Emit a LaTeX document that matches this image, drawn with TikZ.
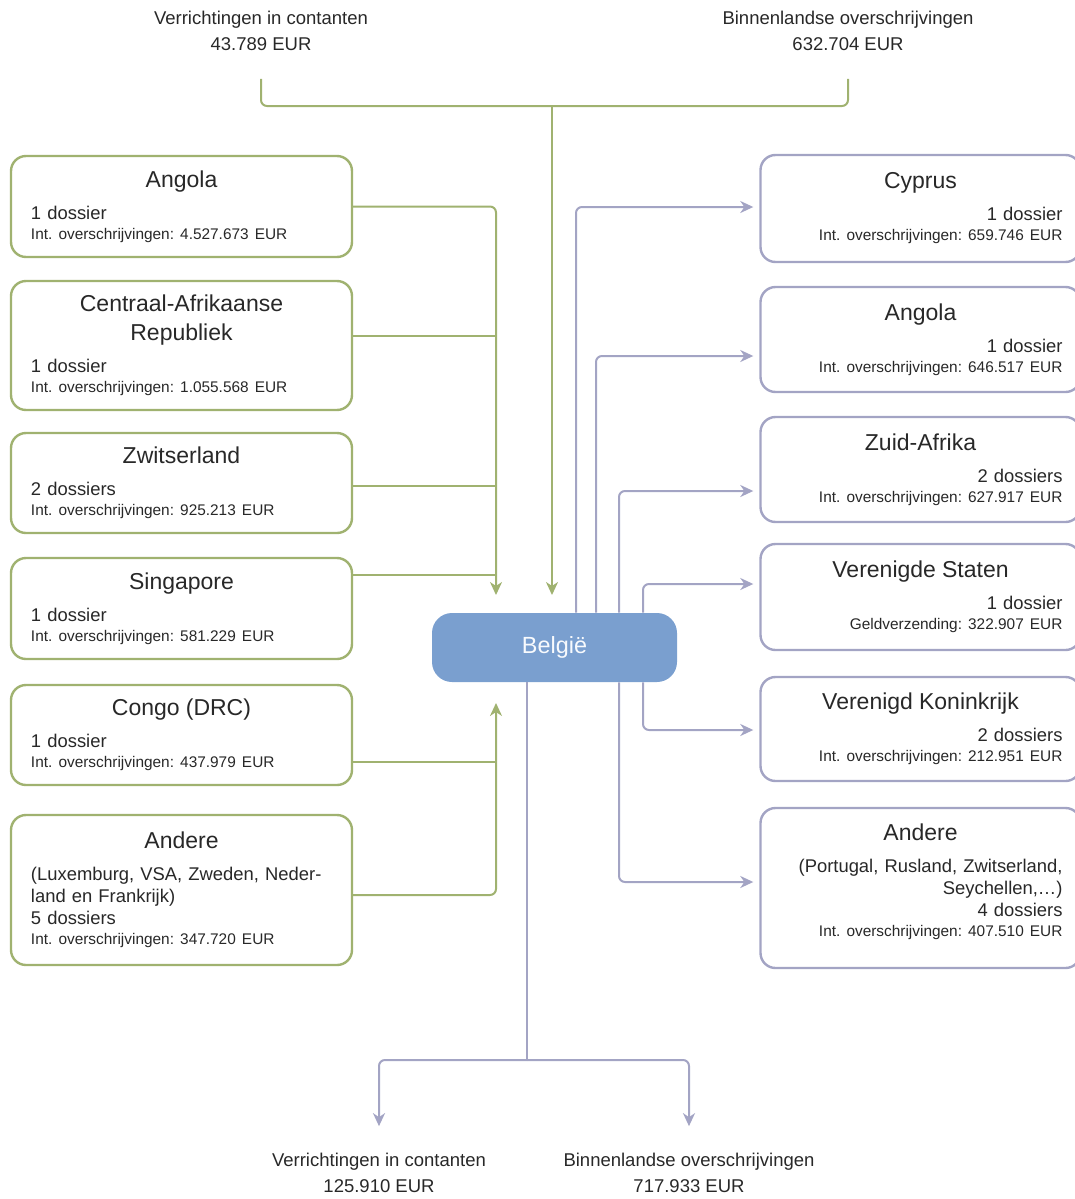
\documentclass[tikz,border=0pt]{standalone}
\usepackage{fontspec}
\setmainfont{Liberation Sans}
\usepackage{xcolor}
\usepackage{tikz}
\usetikzlibrary{arrows.meta, positioning, calc}
\frenchspacing
\definecolor{mytext}{RGB}{40,40,40}
\definecolor{mygreen}{RGB}{160,178,112}
\definecolor{mylilac}{RGB}{163,164,196}
\definecolor{myblue}{RGB}{122,159,207}
\newcommand{\boxhead}[1]{{\centering\fontsize{11.5}{14.5}\selectfont #1\par}\vspace{5pt}}
\newcommand{\intline}[1]{{\par\fontsize{7.7}{10}\selectfont #1\par}}
\tikzset{
  gline/.style={draw=mygreen, line width=1pt},
  garrow/.style={gline, -{Stealth[length=6.5pt, width=6pt, inset=2pt]}},
  pline/.style={draw=mylilac, line width=1pt},
  parrow/.style={pline, -{Stealth[length=6.5pt, width=6pt, inset=2pt]}},
  lbox/.style={draw=mygreen, line width=1.2pt, fill=white, rectangle, rounded corners=7.5pt, text width=150.5pt, inner xsep=10pt, align=left, font=\fontsize{9.2}{11}\selectfont, text=mytext},
  rbox/.style={draw=mylilac, line width=1.2pt, fill=white, rectangle, rounded corners=7.5pt, text width=142pt, inner xsep=9pt, align=right, font=\fontsize{9.2}{11}\selectfont, text=mytext},
  lbl/.style={align=center, font=\fontsize{9.25}{13}\selectfont, text=mytext},
  hub/.style={fill=myblue, rectangle, rounded corners=10pt, minimum width=122.5pt, minimum height=34.5pt, text=white!95!myblue, font=\fontsize{11.7}{14}\selectfont}
}
\begin{document}
\begin{tikzpicture}[x=0.5pt, y=-0.5pt]
  \useasboundingbox (0,0) rectangle (1075,1199);

  % sources on top
  \node [lbl] (cashin) at (261,31) {Verrichtingen in contanten\\43.789 EUR};
  \node [lbl] (transin) at (848,31) {Binnenlandse overschrijvingen\\632.704 EUR};

  % hub
  \node [hub] (bel) at (554.5,647.5) {België};

  % incoming countries
  \node [lbox, minimum height=50.5pt] (ang) at (181.5,206.5) {\boxhead{Angola}1 dossier\intline{Int. overschrijvingen: 4.527.673 EUR}};
  \node [lbox, minimum height=64.5pt] (car) at (181.5,345.5) {\boxhead{Centraal-Afrikaanse\\Republiek}1 dossier\intline{Int. overschrijvingen: 1.055.568 EUR}};
  \node [lbox, minimum height=50pt] (zwi) at (181.5,483) {\boxhead{Zwitserland}2 dossiers\intline{Int. overschrijvingen: 925.213 EUR}};
  \node [lbox, minimum height=50.5pt] (sin) at (181.5,608.5) {\boxhead{Singapore}1 dossier\intline{Int. overschrijvingen: 581.229 EUR}};
  \node [lbox, minimum height=50pt] (con) at (181.5,735) {\boxhead{Congo (DRC)}1 dossier\intline{Int. overschrijvingen: 437.979 EUR}};
  \node [lbox, minimum height=75pt] (andl) at (181.5,890) {\boxhead{Andere}(Luxemburg, VSA, Zweden, Neder-\\land en Frankrijk)\\5 dossiers\intline{Int. overschrijvingen: 347.720 EUR}};

  % outgoing countries
  \node [rbox, minimum height=53.5pt] (cyp) at (920.5,208.5) {\boxhead{Cyprus}1 dossier\intline{Int. overschrijvingen: 659.746 EUR}};
  \node [rbox, minimum height=52.5pt] (angr) at (920.5,339.5) {\boxhead{Angola}1 dossier\intline{Int. overschrijvingen: 646.517 EUR}};
  \node [rbox, minimum height=52.5pt] (zaf) at (920.5,469.5) {\boxhead{Zuid-Afrika}2 dossiers\intline{Int. overschrijvingen: 627.917 EUR}};
  \node [rbox, minimum height=53pt] (vst) at (920.5,597) {\boxhead{Verenigde Staten}1 dossier\intline{Geldverzending: 322.907 EUR}};
  \node [rbox, minimum height=52pt] (vko) at (920.5,729) {\boxhead{Verenigd Koninkrijk}2 dossiers\intline{Int. overschrijvingen: 212.951 EUR}};
  \node [rbox, minimum height=80pt] (andr) at (920.5,888) {\boxhead{Andere}(Portugal, Rusland, Zwitserland,\\Seychellen,\ldots)\\4 dossiers\intline{Int. overschrijvingen: 407.510 EUR}\vspace{6pt}};

  % destinations at the bottom
  \node [lbl] (cashout) at (379,1173) {Verrichtingen in contanten\\125.910 EUR};
  \node [lbl] (transout) at (689,1173) {Binnenlandse overschrijvingen\\717.933 EUR};

  \coordinate (gtop) at (552,106);
  \coordinate (gin) at (496,595);
  \coordinate (gup) at (496,703);
  \coordinate (psplit) at (527,1060);

  % green: into Belgium
  \draw [gline, rounded corners=3pt] ([yshift=-10.5pt]cashin.south) |- (gtop) -| ([yshift=-10.5pt]transin.south);
  \draw [garrow] (gtop) -- (gtop |- gin);
  \draw [garrow, rounded corners=3pt] (ang.east) -| (gin);
  \draw [gline] ([yshift=4.75pt]car.east) -- ([yshift=4.75pt]car.east -| gin);
  \draw [gline] ([yshift=-1.5pt]zwi.east) -- ([yshift=-1.5pt]zwi.east -| gin);
  \draw [gline] ([yshift=16.75pt]sin.east) -- ([yshift=16.75pt]sin.east -| gin);
  \draw [garrow, rounded corners=3pt] ([yshift=-2.5pt]andl.east) -| (gup);
  \draw [gline] ([yshift=-13.5pt]con.east) -- ([yshift=-13.5pt]con.east -| gup);

  % lilac: out of Belgium
  \draw [parrow, rounded corners=3pt, shorten >=3pt] ([xshift=10.75pt]bel.north) |- ([yshift=0.75pt]cyp.west);
  \draw [parrow, rounded corners=3pt, shorten >=3pt] ([xshift=20.75pt]bel.north) |- ([yshift=-8.25pt]angr.west);
  \draw [parrow, rounded corners=3pt, shorten >=3pt] ([xshift=32.25pt]bel.north) |- ([yshift=-10.75pt]zaf.west);
  \draw [parrow, rounded corners=3pt, shorten >=3pt] ([xshift=44.25pt]bel.north) |- ([yshift=6.5pt]vst.west);
  \draw [parrow, rounded corners=3pt, shorten >=3pt] ([xshift=44.25pt]bel.south) |- ([yshift=-0.5pt]vko.west);
  \draw [parrow, rounded corners=3pt, shorten >=3pt] ([xshift=32.25pt]bel.south) |- ([yshift=3pt]andr.west);
  \draw [pline] ([xshift=-13.75pt]bel.south) -- (psplit);
  \draw [parrow, rounded corners=3pt] (psplit) -| ([yshift=10pt]cashout.north);
  \draw [parrow, rounded corners=3pt] (psplit) -| ([yshift=10pt]transout.north);
\end{tikzpicture}
\end{document}
